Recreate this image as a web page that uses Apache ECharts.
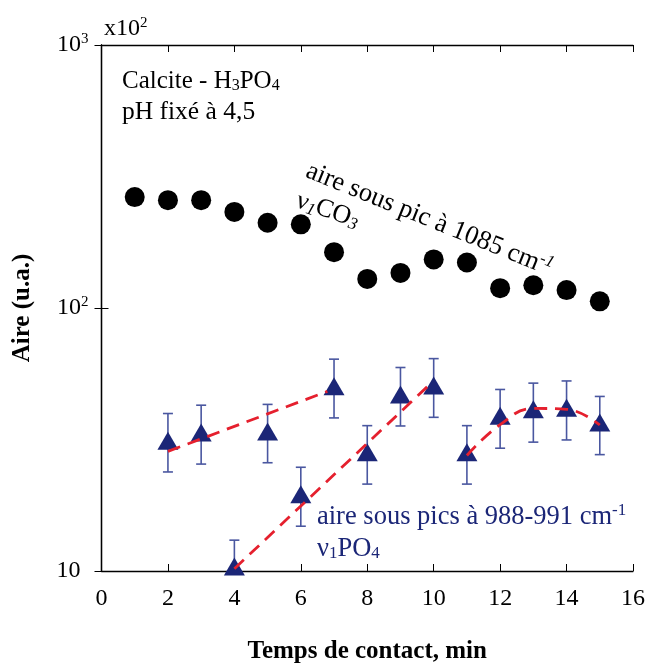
<!DOCTYPE html>
<html>
<head>
<meta charset="utf-8">
<script src="https://cdn.jsdelivr.net/npm/echarts@6/dist/echarts.min.js"></script>
<style>
html,body{margin:0;padding:0;background:#fff;}
#chart{width:648px;height:669px;}
</style>
</head>
<body>
<div id="chart"></div>
<script>
// ---- data ----
const co3X = [1, 2, 3, 4, 5, 6, 7, 8, 9, 10, 11, 12, 13, 14, 15];
const co3Area = [264, 257, 257, 232, 211, 208, 163, 129, 136, 153, 149, 119, 122, 117, 106];

const po4X = [2, 3, 4, 5, 6, 7, 8, 9, 10, 11, 12, 13, 14, 15];
const po4Area = [31.3, 33.6, 10.4, 33.9, 19.6, 50.4, 28.3, 46.9, 50.7, 28.3, 38.9, 41.2, 41.8, 36.7];
const po4ErrHigh = [39.7, 42.7, 13.1, 43.0, 24.8, 63.9, 35.7, 59.4, 64.2, 35.7, 49.0, 51.8, 52.8, 46.1];
const po4ErrLow = [23.8, 25.5, 7.7, 25.8, 14.8, 38.2, 21.4, 35.6, 38.4, 21.4, 29.3, 30.9, 31.5, 27.7];

const fit1X = [2, 6.8];
const fit1Y = [28.5, 48.2];
const fit2X = [4, 9.9];
const fit2Y = [10.2, 51.5];
const fit3X = [11, 12, 13, 14, 15];
const fit3Y = [27.5, 36.0, 41.5, 41.2, 35.9];

const xTicks = [0, 2, 4, 6, 8, 10, 12, 14, 16];
const yTicks = [10, 100, 1000];
const yTickText = ['10{pad| }', '10{sup|2}', '10{sup|3}'];

// ---- build ----
const SERIF = "'Liberation Serif', 'DejaVu Serif', serif";
const NAVY = '#1b2677';
const RED = '#e5202e';
const zip = (a, b) => a.map((v, i) => [v, b[i]]);

const chart = echarts.init(document.getElementById('chart'), null, {renderer: 'canvas'});

const axisLineStyle = {color: '#000', width: 1.3};
const supStyle = (c) => ({fontSize: 15, fontFamily: SERIF, color: c, fill: c, verticalAlign: 'top', padding: [0, 0, 12, 0]});
const option = {
  animation: false,
  backgroundColor: '#fff',
  grid: {left: 101.5, right: 15, top: 45, bottom: 91.5, containLabel: false},
  xAxis: [{
    type: 'value', min: 0, max: 16, interval: 2, position: 'bottom',
    axisLine: {show: true, lineStyle: axisLineStyle},
    axisTick: {show: true, inside: true, length: 7, lineStyle: {color: '#000', width: 1}},
    splitLine: {show: false},
    axisLabel: {
      margin: 16, color: '#000', fontSize: 24, fontFamily: SERIF,
      formatter: v => (xTicks.indexOf(v) >= 0 ? String(v) : '')
    },
    name: 'Temps de contact, min', nameLocation: 'middle', nameGap: 68,
    nameTextStyle: {fontSize: 25, fontWeight: 'bold', fontFamily: SERIF, color: '#000'}
  }, {
    type: 'value', min: 0, max: 16, interval: 2, position: 'top',
    axisLine: {show: true, lineStyle: axisLineStyle},
    axisTick: {show: true, inside: true, length: 7, lineStyle: {color: '#000', width: 1}},
    axisLabel: {show: false}, splitLine: {show: false}
  }],
  yAxis: [{
    type: 'log', logBase: 10, min: 10, max: 1000, position: 'left',
    axisLine: {show: true, lineStyle: axisLineStyle},
    axisTick: {show: true, inside: true, length: 7, lineStyle: {color: '#000', width: 1}},
    minorTick: {show: false},
    splitLine: {show: false},
    axisLabel: {
      margin: 13, color: '#000', fontSize: 24, fontFamily: SERIF,
      formatter: v => { const i = yTicks.findIndex(t => Math.abs(t - v) < 1e-6 * t); return i >= 0 ? yTickText[i] : ''; },
      rich: {sup: supStyle('#000'), pad: {fontSize: 15, width: 8}}
    },
    name: 'Aire (u.a.)', nameLocation: 'middle', nameGap: 66,
    nameTextStyle: {fontSize: 25, fontWeight: 'bold', fontFamily: SERIF, color: '#000'}
  }, {
    type: 'log', logBase: 10, min: 10, max: 1000, position: 'right',
    axisLine: {show: true, lineStyle: axisLineStyle},
    axisTick: {show: true, inside: true, length: 7, lineStyle: {color: '#000', width: 1}},
    axisLabel: {show: false}, splitLine: {show: false}
  }],
  series: [
    {
      type: 'custom', name: 'errbars', z: 2, clip: false,
      data: po4X.map((x, i) => [x, po4ErrLow[i], po4ErrHigh[i]]),
      renderItem: (params, api) => {
        const x = api.value(0);
        const lo = api.coord([x, api.value(1)]);
        const hi = api.coord([x, api.value(2)]);
        const cs = params.coordSys;
        const bottom = cs.y + cs.height;
        const loY = Math.min(lo[1], bottom);
        const st = {stroke: '#4a57a0', lineWidth: 1.6};
        const cap = 5;
        const children = [
          {type: 'line', shape: {x1: hi[0], y1: hi[1], x2: hi[0], y2: loY}, style: st},
          {type: 'line', shape: {x1: hi[0] - cap, y1: hi[1], x2: hi[0] + cap, y2: hi[1]}, style: st}
        ];
        if (lo[1] <= bottom) {
          children.push({type: 'line', shape: {x1: lo[0] - cap, y1: lo[1], x2: lo[0] + cap, y2: lo[1]}, style: st});
        }
        return {type: 'group', children};
      }
    },
    {
      type: 'scatter', name: 'v1CO3', z: 3, clip: false,
      symbol: 'circle', symbolSize: 20,
      itemStyle: {color: '#000', opacity: 1},
      data: zip(co3X, co3Area)
    },
    {
      type: 'scatter', name: 'v1PO4', z: 3, clip: false,
      symbol: 'triangle', symbolSize: [21, 18],
      itemStyle: {color: NAVY, opacity: 1},
      data: zip(po4X, po4Area)
    },
    ...[[fit1X, fit1Y, false], [fit2X, fit2Y, false], [fit3X, fit3Y, 0.45]].map(([fx, fy, sm]) => ({
      type: 'line', z: 4, symbol: 'none', showSymbol: false, smooth: sm,
      lineStyle: {color: RED, width: 2.8, type: [13, 8]},
      data: zip(fx, fy)
    }))
  ],
  graphic: [
    {type: 'text', x: 104, y: 29, style: {
      text: 'x10{sup|2}', fontSize: 24, fontFamily: SERIF, fill: '#000', verticalAlign: 'middle',
      rich: {sup: supStyle('#000')}
    }},
    {type: 'text', x: 122, y: 81, style: {
      text: 'Calcite - H{sub|3}PO{sub|4}', fontSize: 25, fontFamily: SERIF, fill: '#000', verticalAlign: 'middle',
      rich: {sub: {fontSize: 16, fontFamily: SERIF, fill: '#000', verticalAlign: 'bottom', padding: [10, 0, 0, 0]}}
    }},
    {type: 'text', x: 122, y: 112, style: {
      text: 'pH fixé à 4,5', fontSize: 25.5, fontFamily: SERIF, fill: '#000', verticalAlign: 'middle'
    }},
    {type: 'text', x: 307, y: 170, rotation: -0.385, style: {
      text: 'aire sous pic à 1085 cm{sup|-1}', fontSize: 26.5, fontFamily: SERIF, fill: '#000', verticalAlign: 'middle',
      rich: {sup: {fontSize: 17, fontFamily: SERIF, fill: '#000', fontStyle: 'italic', verticalAlign: 'top', padding: [0, 0, 12, 0]}}
    }},
    {type: 'text', x: 297, y: 200, rotation: -0.33, style: {
      text: 'ν{sub|1}CO{sub|3}', fontSize: 26, fontFamily: SERIF, fill: '#000', verticalAlign: 'middle',
      rich: {sub: {fontSize: 17, fontFamily: SERIF, fontStyle: 'italic', fill: '#000', verticalAlign: 'bottom', padding: [10, 0, 0, 0]}}
    }},
    {type: 'text', x: 317, y: 517, style: {
      text: 'aire sous pics à 988-991 cm{sup|-1}', fontSize: 26.5, fontFamily: SERIF, fill: NAVY, verticalAlign: 'middle',
      rich: {sup: {fontSize: 17, fontFamily: SERIF, fill: NAVY, verticalAlign: 'top', padding: [0, 0, 12, 0]}}
    }},
    {type: 'text', x: 317, y: 549, style: {
      text: 'ν{sub|1}PO{sub|4}', fontSize: 26.5, fontFamily: SERIF, fill: NAVY, verticalAlign: 'middle',
      rich: {sub: {fontSize: 17, fontFamily: SERIF, fill: NAVY, verticalAlign: 'bottom', padding: [10, 0, 0, 0]}}
    }}
  ]
};
chart.setOption(option);
</script>
</body>
</html>
